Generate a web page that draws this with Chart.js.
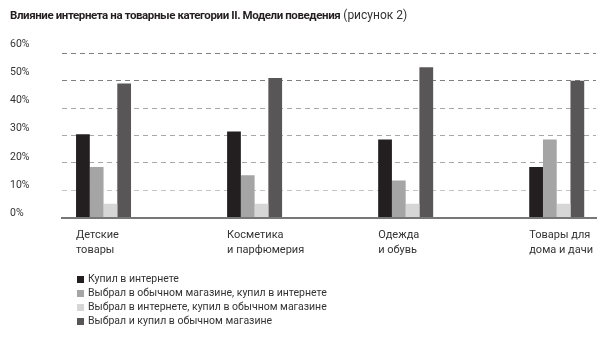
<!DOCTYPE html>
<html>
<head>
<meta charset="utf-8">
<script src="https://cdn.jsdelivr.net/npm/chart.js@4.4.1/dist/chart.umd.min.js"></script>
<style>
  html, body { margin: 0; padding: 0; background: #fff; }
  #wrap { position: relative; width: 600px; height: 337px; overflow: hidden; font-family: Roboto, 'Noto Sans', sans-serif; color: #231f20; }
  #chart { position: absolute; left: 0; top: 0; }
  #title { position: absolute; left: 10px; top: 8px; font-size: 12px; line-height: 15px; white-space: nowrap; color: #333; }
  #title b { font-weight: 700; font-size: 11.5px; letter-spacing: -0.4px; color: #231f20; }
  #legend { position: absolute; left: 77px; top: 272px; font-size: 10.5px; line-height: 14px; color: #333; }
  .item { display: flex; align-items: center; white-space: nowrap; }
  .sw { width: 7px; height: 7px; margin-right: 4px; }
</style>
</head>
<body>
<div id="wrap">
  <canvas id="chart" width="600" height="337"></canvas>
  <div id="title"><b>Влияние интернета на товарные категории II. Модели поведения</b> (рисунок 2)</div>
  <div id="legend"></div>
</div>
<script>
// категории и ряды (в процентах)
const categories = [
    ['Детские', 'товары'],
    ['Косметика', 'и парфюмерия'],
    ['Одежда', 'и обувь'],
    ['Товары для', 'дома и дачи']
];
const seriesNames = [
    'Купил в интернете',
    'Выбрал в обычном магазине, купил в интернете',
    'Выбрал в интернете, купил в обычном магазине',
    'Выбрал и купил в обычном магазине'
];
const boughtOnline = [30.5, 31.5, 28.5, 18.5];
const choseStoreBoughtOnline = [18.5, 15.5, 13.5, 28.5];
const choseOnlineBoughtStore = [5, 5, 5, 5];
const choseAndBoughtStore = [49, 51, 55, 50];
const yTicks = [0, 10, 20, 30, 40, 50, 60];
const seriesColors = ['#231f20', '#a5a5a5', '#d6d6d6', '#595657'];

const seriesValues = [boughtOnline, choseStoreBoughtOnline, choseOnlineBoughtStore, choseAndBoughtStore];

Chart.defaults.font.family = "Roboto, 'Noto Sans', sans-serif";
Chart.defaults.color = '#333';

// подписи оси Y: слева, чуть выше линий сетки
const yLabelsPlugin = {
    id: 'yLabels',
    afterDraw(chart) {
        const y = chart.scales.y;
        const c = chart.ctx;
        c.save();
        c.font = "10.5px Roboto, 'Noto Sans', sans-serif";
        c.fillStyle = '#333';
        c.textAlign = 'left';
        c.textBaseline = 'middle';
        yTicks.forEach(v => {
            c.fillText(v + '%', 10, y.getPixelForValue(v) - 4.4 - v * 0.075);
        });
        c.restore();
    }
};

const ctx = document.getElementById('chart').getContext('2d');
const chart = new Chart(ctx, {
    type: 'bar',
    data: {
        datasets: seriesValues.map((vals, s) => ({
            label: seriesNames[s],
            data: vals.map((v, i) => ({ x: i, y: v })),
            backgroundColor: seriesColors[s],
            borderWidth: 0,
            categoryPercentage: 0.364,
            barPercentage: 1
        }))
    },
    options: {
        responsive: false,
        animation: false,
        layout: { padding: { left: 10, right: 4, top: 53.5, bottom: 79.5 } },
        scales: {
            x: {
                type: 'linear',
                min: -0.275,
                max: 3.26,
                offset: false,
                grid: { display: false, drawTicks: false },
                border: { display: true, color: '#777', width: 2 },
                ticks: {
                    stepSize: 1,
                    includeBounds: false,
                    autoSkip: false,
                    maxRotation: 0,
                    align: 'start',
                    labelOffset: -27.5,
                    padding: 11,
                    color: '#333',
                    font: { size: 11, lineHeight: 1.3 },
                    callback: (v) => categories[v] || ''
                },
                afterFit: (scale) => {
                    scale.height = 40;
                    scale.paddingLeft = 0;
                    scale.paddingRight = 0;
                }
            },
            y: {
                min: 0,
                max: 60,
                grid: {
                    drawTicks: false,
                    lineWidth: 1,
                    color: (c) => {
                        const v = c.tick ? c.tick.value : 0;
                        if (v === 0) return 'rgba(0,0,0,0)';
                        if (v >= 50) return '#808080';
                        if (v === 10) return '#c4c4c4';
                        return '#a8a8a8';
                    }
                },
                border: { display: false, dash: [5, 4] },
                ticks: { display: false, stepSize: 10 },
                afterFit: (scale) => {
                    scale.width = 52;
                    scale.paddingTop = 0;
                    scale.paddingBottom = 0;
                }
            }
        },
        plugins: {
            legend: { display: false },
            title: { display: false },
            tooltip: { enabled: false }
        }
    },
    plugins: [yLabelsPlugin]
});

// легенда списком под графиком
const legendEl = document.getElementById('legend');
seriesNames.forEach((name, s) => {
    const row = document.createElement('div');
    row.className = 'item';
    row.innerHTML = '<span class="sw" style="background:' + seriesColors[s] + '"></span>' + name;
    legendEl.appendChild(row);
});
</script>
</body>
</html>
